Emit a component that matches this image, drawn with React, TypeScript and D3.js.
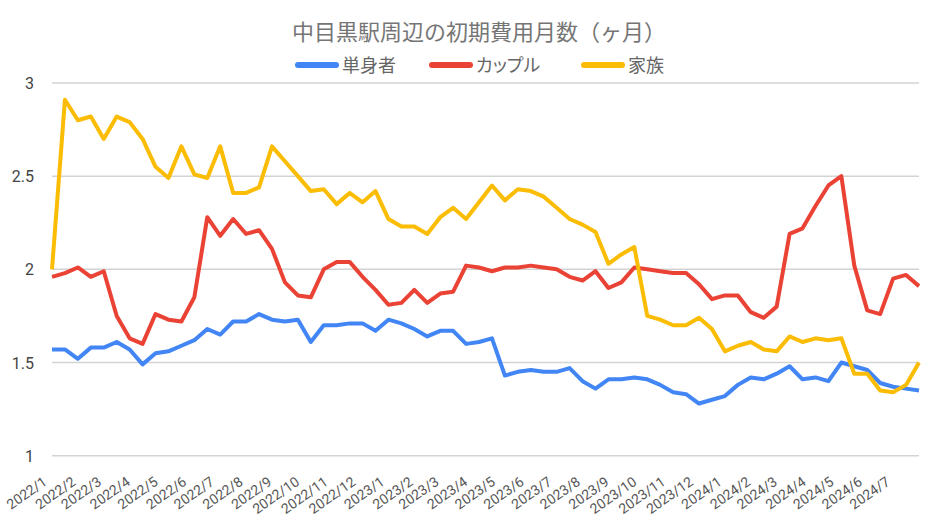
import React from "react";
import * as d3 from "d3";

const title = "中目黒駅周辺の初期費用月数（ヶ月）";
const seriesNames = ["単身者", "カップル", "家族"];
const seriesColors = ["#4285F4", "#EA4335", "#FBBC04"];

const single = [
  1.57, 1.57, 1.52, 1.58, 1.58, 1.61, 1.57, 1.49, 1.55, 1.56, 1.59, 1.62, 1.68, 1.65, 1.72, 1.72, 1.76, 1.73,
  1.72, 1.73, 1.61, 1.70, 1.70, 1.71, 1.71, 1.67, 1.73, 1.71, 1.68, 1.64, 1.67, 1.67, 1.60, 1.61, 1.63, 1.43,
  1.45, 1.46, 1.45, 1.45, 1.47, 1.40, 1.36, 1.41, 1.41, 1.42, 1.41, 1.38, 1.34, 1.33, 1.28, 1.30, 1.32, 1.38,
  1.42, 1.41, 1.44, 1.48, 1.41, 1.42, 1.40, 1.50, 1.48, 1.46, 1.39, 1.37, 1.36, 1.35,
];
const couple = [
  1.96, 1.98, 2.01, 1.96, 1.99, 1.75, 1.63, 1.60, 1.76, 1.73, 1.72, 1.85, 2.28, 2.18, 2.27, 2.19, 2.21, 2.11,
  1.93, 1.86, 1.85, 2.0, 2.04, 2.04, 1.96, 1.89, 1.81, 1.82, 1.89, 1.82, 1.87, 1.88, 2.02, 2.01, 1.99, 2.01,
  2.01, 2.02, 2.01, 2.0, 1.96, 1.94, 1.99, 1.90, 1.93, 2.01, 2.0, 1.99, 1.98, 1.98, 1.92, 1.84, 1.86, 1.86,
  1.77, 1.74, 1.80, 2.19, 2.22, 2.34, 2.45, 2.50, 2.02, 1.78, 1.76, 1.95, 1.97, 1.91,
];
const family = [
  2.0, 2.91, 2.80, 2.82, 2.70, 2.82, 2.79, 2.70, 2.55, 2.49, 2.66, 2.51, 2.49, 2.66, 2.41, 2.41, 2.44, 2.66,
  2.58, 2.50, 2.42, 2.43, 2.35, 2.41, 2.36, 2.42, 2.27, 2.23, 2.23, 2.19, 2.28, 2.33, 2.27, 2.36, 2.45, 2.37,
  2.43, 2.42, 2.39, 2.33, 2.27, 2.24, 2.20, 2.03, 2.08, 2.12, 1.75, 1.73, 1.70, 1.70, 1.74, 1.68, 1.56, 1.59,
  1.61, 1.57, 1.56, 1.64, 1.61, 1.63, 1.62, 1.63, 1.44, 1.44, 1.35, 1.34, 1.38, 1.50,
];

const xTickLabels = [
  "2022/1", "2022/2", "2022/3", "2022/4", "2022/5", "2022/6", "2022/7", "2022/8", "2022/9", "2022/10",
  "2022/11", "2022/12", "2023/1", "2023/2", "2023/3", "2023/4", "2023/5", "2023/6", "2023/7", "2023/8",
  "2023/9", "2023/10", "2023/11", "2023/12", "2024/1", "2024/2", "2024/3", "2024/4", "2024/5", "2024/6",
  "2024/7",
];
const yTicks = [1, 1.5, 2, 2.5, 3];

const startDate = new Date(2022, 0, 1);
const stepDays = 14;

const W = 946;
const H = 531;
const FONT = "Roboto, 'Noto Sans CJK JP', sans-serif";
const JP = "'Noto Sans CJK JP', Roboto, sans-serif";

export default function App() {
  const dates = single.map((_, i) => d3.timeDay.offset(startDate, stepDays * i));
  const x = d3.scaleTime().domain([dates[0], dates[dates.length - 1]]).range([52, 919]);
  const y = d3.scaleLinear().domain([1, 3]).range([455.7, 83]);
  const parse = d3.timeParse("%Y/%m");
  const line = d3
    .line<number>()
    .x((_, i) => x(dates[i]))
    .y((d) => y(d));

  const series = [single, couple, family];

  const legendItems = [
    { lx: 295, tx: 342 },
    { lx: 429, tx: 476 },
    { lx: 581, tx: 628 },
  ];

  return (
    <svg
      width={W}
      height={H}
      style={{ position: "fixed", left: 0, top: 0, display: "block", background: "#fff" }}
    >
      <rect width={W} height={H} fill="#fff" />
      <text x={479} y={40} textAnchor="middle" fontSize={22} fill="#757575" fontFamily={JP}>
        {title}
      </text>
      {legendItems.map((it, i) => (
        <g key={i}>
          <line
            x1={it.lx + 3}
            x2={it.lx + 41}
            y1={65}
            y2={65}
            stroke={seriesColors[i]}
            strokeWidth={6}
            strokeLinecap="round"
          />
          <text
            x={it.tx}
            y={72}
            fontSize={18}
            fill="#666"
            fontFamily={JP}
            style={{ fontFeatureSettings: '"palt"' }}
          >
            {seriesNames[i]}
          </text>
        </g>
      ))}
      {yTicks.map((t) => (
        <g key={t}>
          <line x1={52} x2={919} y1={y(t)} y2={y(t)} stroke="#d3d3d3" strokeWidth={1.5} />
          <text x={34} y={y(t) + 6} textAnchor="end" fontSize={16} fill="#444" fontFamily={FONT}>
            {String(t)}
          </text>
        </g>
      ))}
      {xTickLabels.map((lab) => {
        const d = parse(lab) as Date;
        const px = x(d);
        return (
          <text
            key={lab}
            transform={`translate(${px - 4},${484}) rotate(-35)`}
            textAnchor="end"
            fontSize={14}
            fill="#555"
            fontFamily={FONT}
          >
            {lab}
          </text>
        );
      })}
      {series.map((s, i) => (
        <path
          key={i}
          d={line(s) || ""}
          fill="none"
          stroke={seriesColors[i]}
          strokeWidth={4}
          strokeLinejoin="round"
        />
      ))}
    </svg>
  );
}
